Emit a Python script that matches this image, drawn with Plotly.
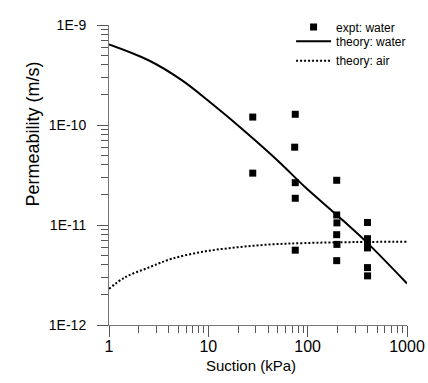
import plotly.graph_objects as go

# experimental data (water)
expt_suction = [28, 28, 75, 74, 75, 75, 75, 196, 196, 197, 196, 197, 196, 400, 400, 400, 400, 400, 401]
expt_perm = [1.2e-10, 3.3e-11, 1.28e-10, 6.0e-11, 2.65e-11, 1.85e-11, 5.6e-12,
             2.8e-11, 1.26e-11, 1.05e-11, 8.0e-12, 6.4e-12, 4.4e-12,
             1.06e-11, 7.3e-12, 6.5e-12, 5.9e-12, 3.75e-12, 3.1e-12]

# theory: water
water_suction = [1, 2.5, 5.4, 10.8, 23.4, 50.7, 94, 200, 394, 1000]
water_perm = [6.4e-10, 4.44e-10, 2.81e-10, 1.64e-10, 8.63e-11, 4.35e-11, 2.4e-11, 1.24e-11, 6.7e-12, 2.6e-12]

# theory: air
air_suction = [1, 1.45, 2.5, 4.3, 9.3, 20, 43.5, 94, 300, 1000]
air_perm = [2.3e-12, 3.0e-12, 3.75e-12, 4.6e-12, 5.45e-12, 6.0e-12, 6.4e-12, 6.6e-12, 6.75e-12, 6.8e-12]

x_ticks = [1, 10, 100, 1000]
x_ticktext = ["1", "10", "100", "1000"]
y_ticks = [1e-12, 1e-11, 1e-10, 1e-9]
y_ticktext = ["1E-12", "1E-11", "1E-10", "1E-9"]

x_minor = [m * 10 ** d for d in range(0, 3) for m in range(2, 10)]
y_minor = [m * 10.0 ** d for d in range(-12, -9) for m in range(2, 10)]

FONT = "Liberation Sans, Arial, sans-serif"

fig = go.Figure()
fig.add_trace(go.Scatter(
    x=expt_suction, y=expt_perm, mode="markers", name="expt: water", legend="legend",
    marker=dict(symbol="square", size=7, color="black"),
))
fig.add_trace(go.Scatter(
    x=water_suction, y=water_perm, mode="lines", name="theory: water", legend="legend2",
    line=dict(color="black", width=2, shape="spline", smoothing=1.0),
))
fig.add_trace(go.Scatter(
    x=air_suction, y=air_perm, mode="lines", name="theory: air", legend="legend3",
    line=dict(color="black", width=2, dash="2px,2px", shape="spline", smoothing=1.0),
))

axis_common = dict(
    showgrid=False, zeroline=False, showline=True, linecolor="#777777", linewidth=1,
    ticks="outside", ticklen=11, tickcolor="#555555", tickwidth=1, automargin=False,
)

fig.update_xaxes(
    type="log", range=[0, 3], tickmode="array", tickvals=x_ticks, ticktext=x_ticktext,
    tickfont=dict(family=FONT, size=16, color="black"),
    minor=dict(tickmode="array", tickvals=x_minor, ticks="outside", ticklen=7,
               tickcolor="#555555", tickwidth=1),
    ticklabelstandoff=-4,
    **axis_common,
)
fig.update_yaxes(
    type="log", range=[-12, -9], tickmode="array", tickvals=y_ticks, ticktext=y_ticktext,
    tickfont=dict(family=FONT, size=14, color="black"),
    minor=dict(tickmode="array", tickvals=y_minor, ticks="outside", ticklen=7,
               tickcolor="#555555", tickwidth=1),
    ticklabelstandoff=8,
    **axis_common,
)

leg_common = dict(xanchor="left", yanchor="middle", bgcolor="rgba(0,0,0,0)",
                  font=dict(family=FONT, size=12, color="black"), itemwidth=35)

fig.update_layout(
    width=428, height=383,
    margin=dict(l=109, r=21, t=23, b=58),
    paper_bgcolor="white", plot_bgcolor="white",
    font=dict(family=FONT, color="black"),
    showlegend=True,
    legend=dict(x=0.611, y=0.9934, **leg_common),
    legend2=dict(x=0.611, y=0.946, **leg_common),
    legend3=dict(x=0.611, y=0.881, **leg_common),
    annotations=[
        dict(text="Permeability (m/s)", xref="paper", yref="paper",
             x=-0.258, y=0.635, textangle=-90, showarrow=False,
             font=dict(family=FONT, size=18, color="black"),
             xanchor="center", yanchor="middle"),
        dict(text="Suction (kPa)", xref="paper", yref="paper",
             x=0.475, y=-0.136, showarrow=False,
             font=dict(family=FONT, size=15, color="black"),
             xanchor="center", yanchor="middle"),
    ],
)

fig.write_html("out.html")
